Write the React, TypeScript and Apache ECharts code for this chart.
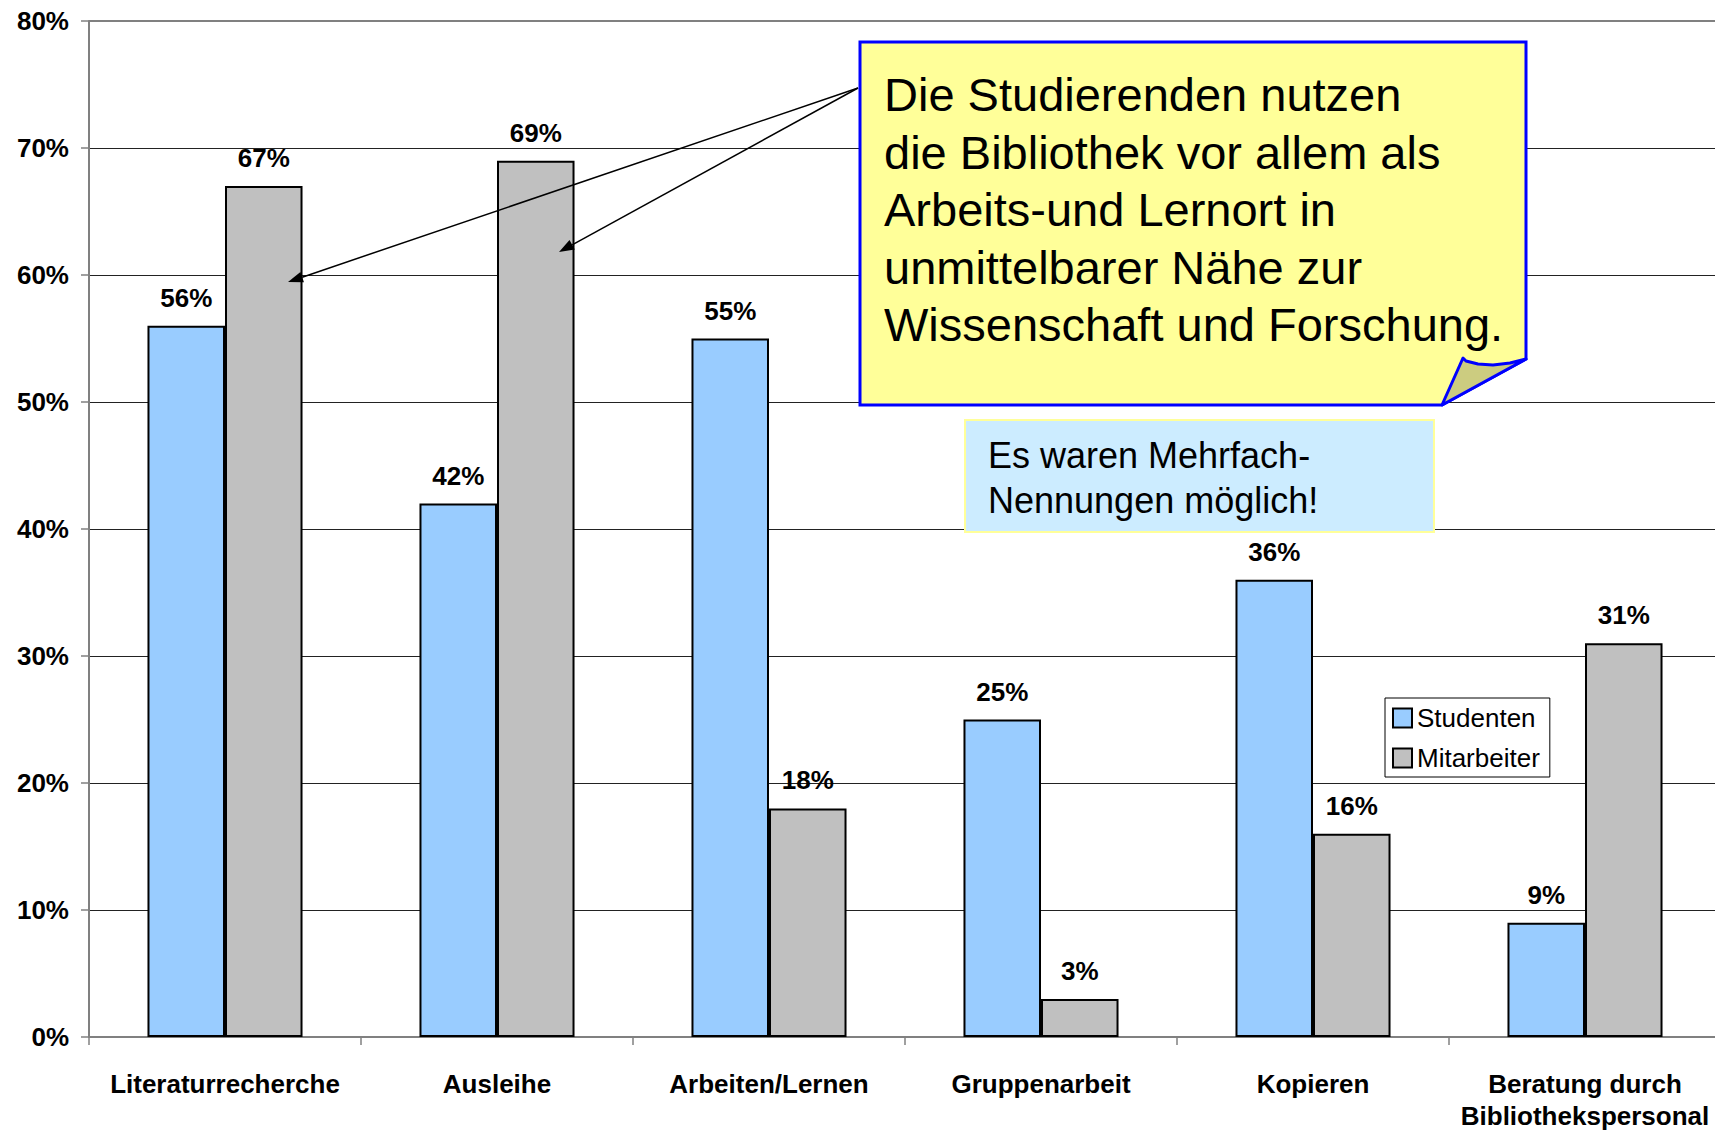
import React, { useEffect, useRef } from 'react';
import * as echarts from 'echarts';

const categories = [
  'Literaturrecherche',
  'Ausleihe',
  'Arbeiten/Lernen',
  'Gruppenarbeit',
  'Kopieren',
  'Beratung durch\nBibliothekspersonal',
];
const studenten = [56, 42, 55, 25, 36, 9];
const mitarbeiter = [67, 69, 18, 3, 16, 31];
const seriesNames = ['Studenten', 'Mitarbeiter'];
const seriesColors = ['#99CCFF', '#C0C0C0'];
const calloutLines = [
  'Die Studierenden nutzen',
  'die Bibliothek vor allem als',
  'Arbeits-und Lernort in',
  'unmittelbarer Nähe zur',
  'Wissenschaft und Forschung.',
];
const noteLines = ['Es waren Mehrfach-', 'Nennungen möglich!'];

const FONT = '"Liberation Sans", Arial, Helvetica, sans-serif';

function arrow(x1: number, y1: number, x2: number, y2: number) {
  const dx = x2 - x1;
  const dy = y2 - y1;
  const L = Math.hypot(dx, dy);
  const ux = dx / L;
  const uy = dy / L;
  const len = 15;
  const hw = 5.5;
  const bx = x2 - ux * len;
  const by = y2 - uy * len;
  return [
    {
      type: 'line',
      z: 100,
      shape: { x1, y1, x2: bx, y2: by },
      style: { stroke: '#000', lineWidth: 1.5 },
    },
    {
      type: 'polygon',
      z: 100,
      shape: {
        points: [
          [x2, y2],
          [bx - uy * hw, by + ux * hw],
          [bx + uy * hw, by - ux * hw],
        ],
      },
      style: { fill: '#000' },
    },
  ];
}

export default function App() {
  const ref = useRef<HTMLDivElement>(null);
  useEffect(() => {
    if (!ref.current) return;
    const chart = echarts.init(ref.current, null, { renderer: 'svg' });
    const labelStyle = {
      show: true,
      position: 'top',
      distance: 15,
      formatter: '{c}%',
      fontFamily: FONT,
      fontWeight: 'bold',
      fontSize: 26,
      color: '#000',
    };
    const option: any = {
      animation: false,
      backgroundColor: '#fff',
      grid: {
        left: 89,
        top: 21,
        bottom: 96,
        right: -6,
        containLabel: false,
        outerBoundsMode: 'none',
      },
      legend: {
        orient: 'vertical',
        left: 1385,
        top: 698,
        data: seriesNames,
        icon: 'rect',
        itemWidth: 19,
        itemHeight: 19,
        itemGap: 10,
        padding: [5, 10, 4, 7],
        borderColor: '#000',
        borderWidth: 1,
        backgroundColor: '#fff',
        textStyle: { fontFamily: FONT, fontSize: 26, lineHeight: 30, color: '#000' },
      },
      xAxis: {
        type: 'category',
        data: categories,
        axisLine: { lineStyle: { color: '#808080', width: 2 } },
        axisTick: { show: true, length: 8, lineStyle: { color: '#808080', width: 1.5 } },
        axisLabel: {
          fontFamily: FONT,
          fontWeight: 'bold',
          fontSize: 26,
          lineHeight: 32,
          color: '#000',
          margin: 31,
          interval: 0,
        },
      },
      yAxis: {
        type: 'value',
        min: 0,
        max: 80,
        interval: 10,
        axisLine: { show: true, lineStyle: { color: '#808080', width: 2 } },
        axisTick: { show: true, length: 8, lineStyle: { color: '#808080', width: 1.5 } },
        axisLabel: {
          formatter: '{value}%',
          fontFamily: FONT,
          fontWeight: 'bold',
          fontSize: 26,
          color: '#000',
          margin: 20,
        },
        splitLine: { show: true, lineStyle: { color: '#222', width: 1 } },
      },
      series: [
        {
          name: seriesNames[0],
          type: 'bar',
          data: studenten,
          barGap: '0%',
          barCategoryGap: '43%',
          itemStyle: { color: seriesColors[0], borderColor: '#000', borderWidth: 2 },
          label: labelStyle,
          markLine: {
            silent: true,
            symbol: 'none',
            label: { show: false },
            lineStyle: { color: '#808080', width: 2, type: 'solid' },
            data: [{ yAxis: 80 }],
          },
        },
        {
          name: seriesNames[1],
          type: 'bar',
          data: mitarbeiter,
          barGap: '0%',
          barCategoryGap: '43%',
          itemStyle: { color: seriesColors[1], borderColor: '#000', borderWidth: 2 },
          label: labelStyle,
        },
      ],
      graphic: [
        ...arrow(858, 88, 288, 282),
        ...arrow(858, 88, 559, 252),
        {
          type: 'polygon',
          z: 101,
          shape: {
            points: [
              [860, 42],
              [1526, 42],
              [1526, 359],
              [1442, 405],
              [860, 405],
            ],
          },
          style: { fill: '#FFFF99', stroke: '#0000FF', lineWidth: 3, lineJoin: 'miter' },
        },
        {
          type: 'polygon',
          z: 102,
          shape: {
            points: [
              [1526, 359],
              [1510, 363],
              [1493, 365],
              [1478, 364],
              [1466, 361],
              [1463, 358],
              [1442, 405],
            ],
          },
          style: { fill: '#CCCC80', stroke: '#0000FF', lineWidth: 3, lineJoin: 'round' },
        },
        {
          type: 'text',
          z: 103,
          x: 884,
          y: 66,
          style: {
            text: calloutLines.join('\n'),
            fontFamily: FONT,
            fontSize: 47,
            lineHeight: 57.5,
            fill: '#000',
            verticalAlign: 'top',
            align: 'left',
          },
        },
        {
          type: 'rect',
          z: 101,
          shape: { x: 965, y: 420, width: 469, height: 112 },
          style: { fill: '#CCECFF', stroke: '#FFFF99', lineWidth: 2 },
        },
        {
          type: 'text',
          z: 103,
          x: 988,
          y: 433,
          style: {
            text: noteLines.join('\n'),
            fontFamily: FONT,
            fontSize: 36,
            lineHeight: 45,
            fill: '#000',
            verticalAlign: 'top',
            align: 'left',
          },
        },
      ],
    };
    chart.setOption(option);
    return () => chart.dispose();
  }, []);
  return (
    <div
      ref={ref}
      style={{ position: 'absolute', left: 0, top: 0, width: 1715, height: 1133, overflow: 'hidden' }}
    />
  );
}
